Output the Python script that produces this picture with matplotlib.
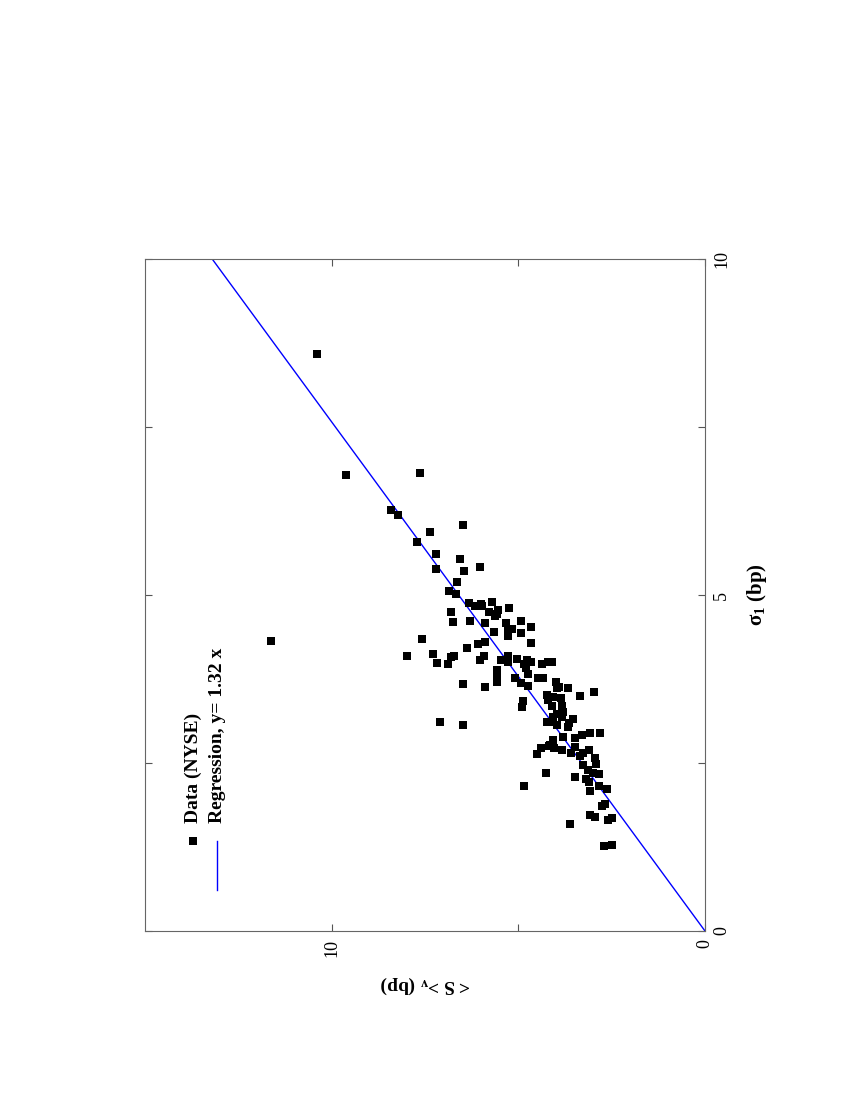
import matplotlib
matplotlib.use("Agg")
import matplotlib.pyplot as plt
from matplotlib.ticker import FixedLocator, NullFormatter
import numpy as np

plt.rcParams['font.family'] = ['Liberation Serif', 'DejaVu Serif']
plt.rcParams['mathtext.fontset'] = 'custom'
plt.rcParams['mathtext.rm'] = 'Liberation Serif'
plt.rcParams['mathtext.bf'] = 'Liberation Serif:bold'
plt.rcParams['mathtext.default'] = 'regular'

# data read from the (rotated) figure: sigma_1 (bp) and <S>_v (bp)
sigma = [8.59, 6.79, 6.81, 6.26, 6.19, 6.04, 5.94, 5.79, 5.61, 5.54,
         5.38, 5.36, 5.41, 5.20, 5.06, 5.01, 4.88, 4.84, 4.87, 4.83,
         4.90, 4.75, 4.75, 4.71, 4.78, 4.69, 4.81, 4.60, 4.61, 4.59,
         4.59, 4.49, 4.49, 4.62, 4.52, 4.45, 4.44, 4.39, 4.28, 4.34,
         4.30, 4.27, 4.21, 4.32, 4.09, 4.12, 3.99, 3.97, 4.07, 4.09,
         4.03, 4.09, 4.03, 4.09, 4.01, 4.05, 3.97, 4.03, 4.01, 3.92,
         3.97, 4.01, 4.01, 3.88, 3.78, 3.71, 3.77, 3.69, 3.83, 3.65,
         3.76, 3.76, 3.68, 3.63, 3.70, 3.62, 3.63, 3.62, 3.56, 3.49,
         3.43, 3.34, 3.51, 3.44, 3.48, 3.47, 3.35, 3.35, 3.26, 3.23,
         3.18, 3.18, 3.11, 3.11, 3.07, 3.15, 3.09, 3.03, 3.11, 3.06,
         2.94, 2.94, 2.91, 2.87, 2.89, 2.84, 2.76, 2.73, 2.70, 2.65,
         2.74, 2.65, 2.69, 2.72, 2.63, 2.60, 2.57, 2.47, 2.48, 2.40,
         2.34, 2.35, 2.35, 2.29, 2.26, 2.21, 2.16, 2.16, 2.12, 2.09,
         1.86, 1.89, 1.73, 1.70, 1.65, 1.68, 1.59, 1.26, 1.28, 2.77]
spread = [10.39, 9.62, 7.64, 8.41, 8.22, 6.47, 7.36, 7.72, 7.21, 6.56,
          7.20, 6.45, 6.03, 6.64, 6.86, 6.66, 6.33, 6.15, 6.00, 5.96,
          5.70, 6.80, 5.79, 5.58, 5.54, 5.63, 5.24, 6.76, 6.30, 5.88,
          5.33, 5.27, 5.16, 4.92, 4.66, 5.65, 4.92, 5.27, 4.65, 7.57,
          5.89, 6.09, 6.38, 11.63, 7.99, 7.29, 7.18, 6.89, 6.80, 6.72,
          6.02, 5.91, 5.47, 5.27, 5.29, 5.04, 4.86, 4.78, 4.65, 4.79,
          4.36, 4.20, 4.09, 5.58, 5.56, 5.56, 5.10, 4.93, 4.75, 4.74,
          4.47, 4.35, 6.49, 5.89, 3.99, 3.97, 3.90, 3.66, 2.97, 3.34,
          4.87, 4.90, 4.22, 4.20, 4.06, 3.86, 3.83, 4.09, 3.80, 3.96,
          4.08, 3.82, 4.23, 4.06, 3.97, 3.54, 3.65, 3.68, 7.10, 6.47,
          3.07, 2.81, 3.30, 3.48, 3.80, 4.06, 4.19, 4.04, 3.84, 3.60,
          3.48, 3.28, 3.11, 4.38, 4.49, 3.35, 2.95, 3.27, 2.93, 3.13,
          2.84, 2.99, 4.25, 3.48, 3.19, 3.10, 4.84, 2.85, 2.62, 3.08,
          2.77, 2.67, 3.08, 2.94, 2.61, 2.49, 3.61, 2.71, 2.49, 4.15]
slope = 1.32
sig_line = np.array([0, 10])

fig = plt.figure(figsize=(8.5, 11), dpi=100)
ax = fig.add_axes([145/850, 1-931/1100, 560/850, 672/1100])

ax.plot(sig_line*slope, sig_line, color='#0000ff', lw=1.0, zorder=2)
ax.plot(spread, sigma, 's', color='black', ms=6, mew=0, zorder=3)

ax.set_xlim(15, 0)
ax.set_ylim(0, 10)

ax.xaxis.set_major_locator(FixedLocator([0, 10]))
ax.xaxis.set_minor_locator(FixedLocator([5]))
ax.yaxis.set_major_locator(FixedLocator([0, 5, 10]))
ax.yaxis.set_minor_locator(FixedLocator([2.5, 7.5]))
ax.xaxis.set_minor_formatter(NullFormatter())
ax.yaxis.set_minor_formatter(NullFormatter())

ax.tick_params(which='both', direction='in', length=5, width=0.8, color='#555555',
               top=True, bottom=True, left=True, right=True,
               labelleft=False, labelright=True, labelsize=13)
ax.tick_params(axis='x', pad=6)
ax.tick_params(axis='y', pad=6)
for lab in ax.get_xticklabels():
    lab.set_rotation(90)
    lab.set_va('top')
for lab in ax.get_yticklabels():
    lab.set_rotation(90)
    lab.set_va('center')

for sp in ax.spines.values():
    sp.set_color('#666666')
    sp.set_linewidth(0.8)

# axis titles (page is rotated, so placed by hand)
ax.text(1.093, 0.5, 'σ$_1$ (bp)', rotation=90, ha='center', va='center',
        fontsize=15, fontweight='bold', transform=ax.transAxes)
ax.text(0.5, -0.08, '< S >$_v$ (bp)', rotation=180, ha='center', va='center',
        fontsize=14, fontweight='bold', transform=ax.transAxes)

# legend, drawn rotated like the rest of the page
ax.plot([0.0857], [0.134], 's', color='black', ms=6, mew=0, transform=ax.transAxes)
ax.plot([0.1286, 0.1286], [0.061, 0.134], color='#0000ff', lw=1.0, transform=ax.transAxes)
ax.text(0.0857, 0.161, 'Data (NYSE)', rotation=90, ha='center', va='bottom',
        fontsize=14, fontweight='bold', transform=ax.transAxes)
ax.text(0.1286, 0.161, 'Regression, y= 1.32 x', rotation=90, ha='center', va='bottom',
        fontsize=14, fontweight='bold', transform=ax.transAxes)

fig.savefig('out.png', dpi=100)
